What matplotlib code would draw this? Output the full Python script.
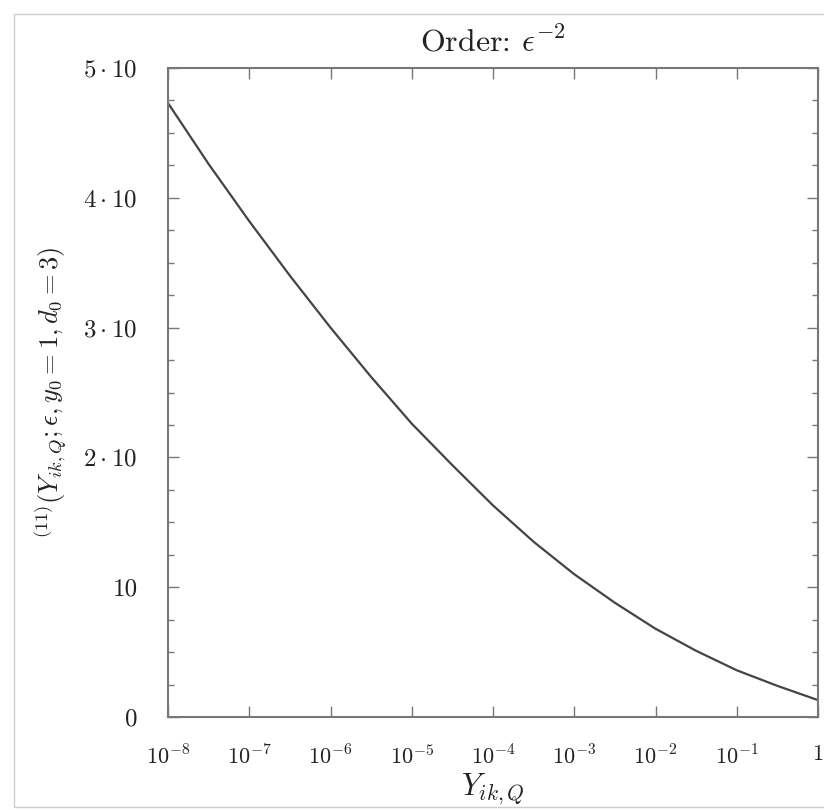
import numpy as np
import matplotlib

matplotlib.use('Agg')
import matplotlib.pyplot as plt
from matplotlib.ticker import MultipleLocator, FixedLocator, NullLocator
from matplotlib.patches import Rectangle

# curve: log10(Y_ik,Q) and value
log_y = [-8.0, -7.5, -7.0, -6.5, -6.0, -5.5, -5.0, -4.5, -4.0,
         -3.5, -3.0, -2.5, -2.0, -1.5, -1.0, -0.5, 0.0]
values = [47.3, 42.6, 38.2, 34.0, 30.0, 26.2, 22.6, 19.4, 16.3,
          13.5, 11.0, 8.8, 6.8, 5.1, 3.6, 2.4, 1.3]

ytick_vals = [0, 10, 20, 30, 40, 50]
ytick_labels = ['0', '10', r'$2\cdot 10$', r'$3\cdot 10$', r'$4\cdot 10$', r'$5\cdot 10$']
xtick_exp = [-8, -7, -6, -5, -4, -3, -2, -1, 0]
xtick_labels = [r'$10^{%d}$' % e if e != 0 else '1' for e in xtick_exp]

plt.rcParams['mathtext.fontset'] = 'cm'
plt.rcParams['font.family'] = 'serif'
plt.rcParams['font.serif'] = ['cmr10', 'DejaVu Serif']
plt.rcParams['axes.formatter.use_mathtext'] = True

text_col = '#222222'
axis_col = '#777777'

fig = plt.figure(figsize=(8.24, 8.10), dpi=100)
ax = fig.add_axes([168 / 824, 93 / 810, 650 / 824, 649 / 810])

x = 10.0 ** np.array(log_y)
ax.plot(x, values, color='#444444', lw=1.6)

ax.set_xscale('log')
ax.set_xlim(1e-8, 1)
ax.set_ylim(0, 50)

ax.xaxis.set_major_locator(FixedLocator([10.0 ** e for e in xtick_exp]))
ax.xaxis.set_minor_locator(NullLocator())
ax.set_xticklabels(xtick_labels)
ax.set_yticks(ytick_vals)
ax.set_yticklabels(ytick_labels)
ax.yaxis.set_minor_locator(MultipleLocator(2.5))

ax.tick_params(axis='both', which='both', direction='in', top=True, right=True,
               color=axis_col, labelcolor=text_col)
ax.tick_params(axis='both', which='major', length=8, width=1.0)
ax.tick_params(axis='y', which='minor', length=4, width=1.0)
ax.tick_params(axis='y', which='major', labelsize=18, pad=22)
ax.tick_params(axis='x', which='major', labelsize=16, pad=20)

for s in ax.spines.values():
    s.set_color(axis_col)
    s.set_linewidth(1.5)

ax.set_title(r'Order: $\epsilon^{-2}$', fontsize=23, color=text_col, pad=12)
ax.set_xlabel(r'$Y_{ik,Q}$', fontsize=22, color=text_col, labelpad=2)
ax.set_ylabel(r'$^{(11)}(Y_{ik,Q};\epsilon,y_0=1,d_0=3)$', fontsize=19,
              color=text_col, labelpad=10)

# light frame of the screenshot
fig.patches.append(Rectangle((14 / 824, 3 / 810), 812 / 824, 793 / 810,
                             transform=fig.transFigure, fill=False,
                             edgecolor='#cccccc', lw=1.0))

fig.savefig('out.png', dpi=100)
